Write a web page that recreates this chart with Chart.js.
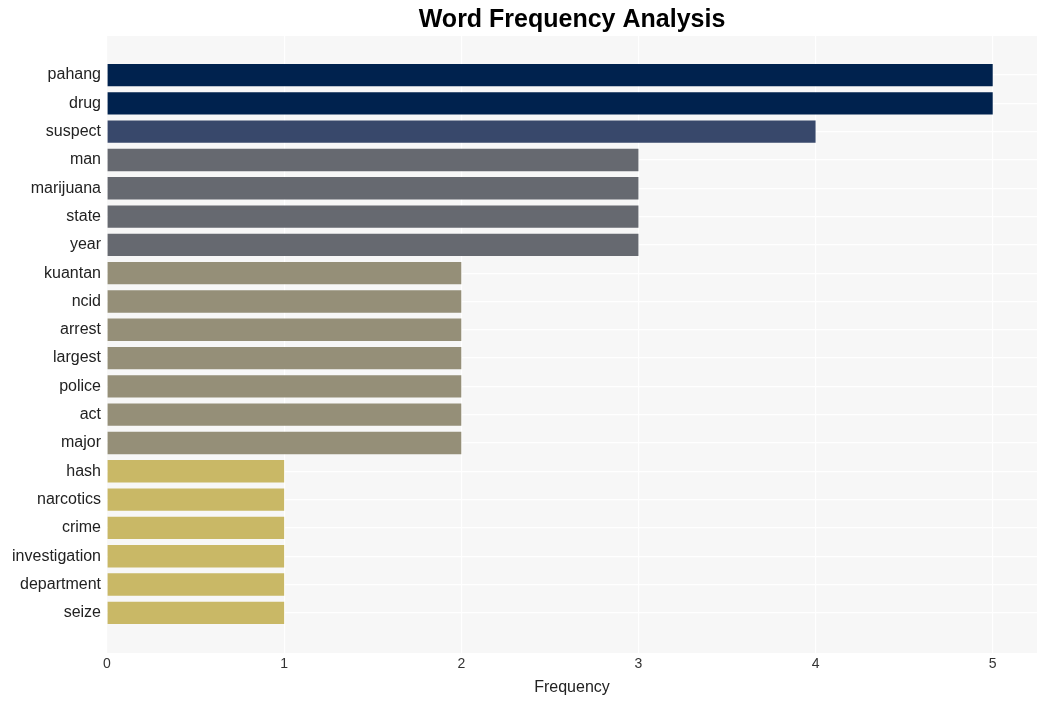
<!DOCTYPE html>
<html>
<head>
<meta charset="utf-8">
<title>Word Frequency Analysis</title>
<script src="https://cdn.jsdelivr.net/npm/chart.js@4/dist/chart.umd.min.js"></script>
<style>
    html, body { margin: 0; padding: 0; background: #ffffff; }
    #wrap { width: 1047px; height: 701px; }
</style>
</head>
<body>
<div id="wrap"><canvas id="freqChart" width="1047" height="701"></canvas></div>
<script>
// words, top to bottom, and how often each one shows up
const words = ['pahang', 'drug', 'suspect', 'man', 'marijuana', 'state', 'year',
    'kuantan', 'ncid', 'arrest', 'largest', 'police', 'act', 'major',
    'hash', 'narcotics', 'crime', 'investigation', 'department', 'seize'];
const counts = [5, 5, 4, 3, 3, 3, 3, 2, 2, 2, 2, 2, 2, 2, 1, 1, 1, 1, 1, 1];
const xTicks = [0, 1, 2, 3, 4, 5];

// fill colour depends on the count
const palette = { 1: '#c9b866', 2: '#958f78', 3: '#666970', 4: '#38486b', 5: '#00224e' };

const fontFamily = '"Liberation Sans", Arial, sans-serif';

// grey panel behind the bars + the centred title
const panelPlugin = {
    id: 'panel',
    beforeDraw(chart) {
        const { ctx, chartArea } = chart;
        ctx.save();
        ctx.fillStyle = '#f7f7f7';
        ctx.fillRect(chartArea.left, chartArea.top, chartArea.right - chartArea.left, chartArea.bottom - chartArea.top);
        ctx.restore();
    },
    afterDraw(chart) {
        const { ctx, chartArea } = chart;
        ctx.save();
        ctx.fillStyle = '#000000';
        ctx.font = 'bold 25px ' + fontFamily;
        ctx.textAlign = 'center';
        ctx.textBaseline = 'middle';
        ctx.fillText('Word Frequency Analysis', (chartArea.left + chartArea.right) / 2, 20);
        ctx.restore();
    }
};

function renderChart() {
    const ctx = document.getElementById('freqChart').getContext('2d');
    new Chart(ctx, {
        type: 'bar',
        data: {
            datasets: [{
                label: 'Frequency',
                data: counts.map((c, i) => ({ x: c, y: i })),
                backgroundColor: counts.map(c => palette[c]),
                borderWidth: 0,
                categoryPercentage: 1,
                barPercentage: 0.79
            }]
        },
        options: {
            indexAxis: 'y',
            responsive: false,
            animation: false,
            layout: { padding: { top: 36, right: 10, left: 0, bottom: 4 } },
            plugins: {
                legend: { display: false },
                tooltip: { enabled: false }
            },
            scales: {
                x: {
                    type: 'linear',
                    min: 0,
                    max: 5.25,
                    afterBuildTicks: axis => { axis.ticks = xTicks.map(v => ({ value: v })); },
                    grid: { color: '#ffffff', lineWidth: 1.2, drawTicks: false },
                    border: { display: false },
                    ticks: {
                        color: '#333333',
                        padding: 3,
                        font: { family: fontFamily, size: 14 }
                    },
                    title: {
                        display: true,
                        text: 'Frequency',
                        color: '#222222',
                        padding: { top: 2, bottom: 0 },
                        font: { family: fontFamily, size: 16 }
                    }
                },
                y: {
                    type: 'linear',
                    reverse: true,
                    offset: false,
                    min: -1.38,
                    max: 20.42,
                    afterBuildTicks: axis => { axis.ticks = words.map((w, i) => ({ value: i })); },
                    afterFit: scale => { scale.width = 107; },
                    grid: { color: '#ffffff', lineWidth: 1.2, drawTicks: false, offset: false },
                    border: { display: false },
                    ticks: {
                        color: '#222222',
                        padding: 6,
                        autoSkip: false,
                        font: { family: fontFamily, size: 16 },
                        callback: v => words[v]
                    }
                }
            }
        },
        plugins: [panelPlugin]
    });
}

window.onload = renderChart;
</script>
</body>
</html>
